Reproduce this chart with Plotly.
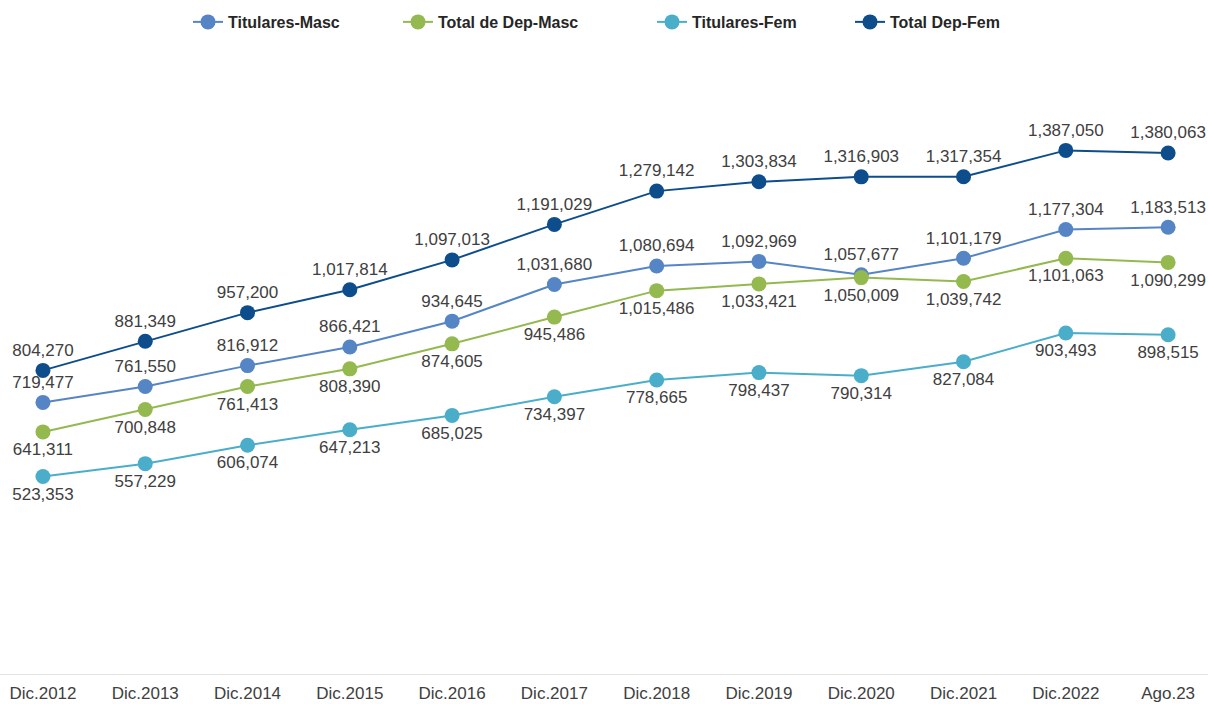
import plotly.graph_objects as go

periodos = ['Dic.2012', 'Dic.2013', 'Dic.2014', 'Dic.2015', 'Dic.2016', 'Dic.2017',
            'Dic.2018', 'Dic.2019', 'Dic.2020', 'Dic.2021', 'Dic.2022', 'Ago.23']

titulares_masc = [719477, 761550, 816912, 866421, 934645, 1031680,
                  1080694, 1092969, 1057677, 1101179, 1177304, 1183513]
total_dep_masc = [641311, 700848, 761413, 808390, 874605, 945486,
                  1015486, 1033421, 1050009, 1039742, 1101063, 1090299]
titulares_fem = [523353, 557229, 606074, 647213, 685025, 734397,
                 778665, 798437, 790314, 827084, 903493, 898515]
total_dep_fem = [804270, 881349, 957200, 1017814, 1097013, 1191029,
                 1279142, 1303834, 1316903, 1317354, 1387050, 1380063]

series = [
    ('Titulares-Masc', titulares_masc, '#5585c5', 'top center'),
    ('Total de Dep-Masc', total_dep_masc, '#93b94f', 'bottom center'),
    ('Titulares-Fem', titulares_fem, '#4aaecb', 'bottom center'),
    ('Total Dep-Fem', total_dep_fem, '#0d4d8c', 'top center'),
]
# left edge (px) of each legend entry, like the spread-out legend of the original
legend_px = [188, 398, 652, 850]

W, H = 1208, 704
x = list(range(len(periodos)))
fig = go.Figure()
legend_cfg = {}
for i, (nombre, valores, color, pos) in enumerate(series):
    lg = 'legend' if i == 0 else f'legend{i + 1}'
    fig.add_trace(go.Scatter(
        x=x, y=valores, name=nombre, mode='lines+markers+text',
        line=dict(color=color, width=2),
        marker=dict(color=color, size=15),
        text=[f'{v:,}' for v in valores],
        textposition=pos,
        textfont=dict(family='Arial', size=17, color='#404040'),
        cliponaxis=False, legend=lg,
    ))
    legend_cfg[lg] = dict(
        orientation='h', x=legend_px[i] / W, xanchor='left',
        y=1.0795, yanchor='middle', bgcolor='rgba(0,0,0,0)',
        font=dict(family='Arial', size=16, color='#262626', weight='bold'),
        itemwidth=30,
    )

fig.update_layout(
    width=W, height=H,
    paper_bgcolor='white', plot_bgcolor='white',
    margin=dict(l=0, r=0, t=70, b=30),
    showlegend=True,
    **legend_cfg,
)
fig.update_xaxes(
    range=[-0.42, 11.39], tickvals=x, ticktext=periodos,
    tickfont=dict(family='Arial', size=17, color='#404040'),
    showgrid=False, zeroline=False, showline=True, linecolor='#e3e3e3', linewidth=1,
    ticks='', ticklabelstandoff=4,
)
fig.update_yaxes(range=[0, 1600000], visible=False, showgrid=False, zeroline=False)

fig.write_html('out.html', config={'displayModeBar': False},
               post_script="document.body.style.margin='0';")
